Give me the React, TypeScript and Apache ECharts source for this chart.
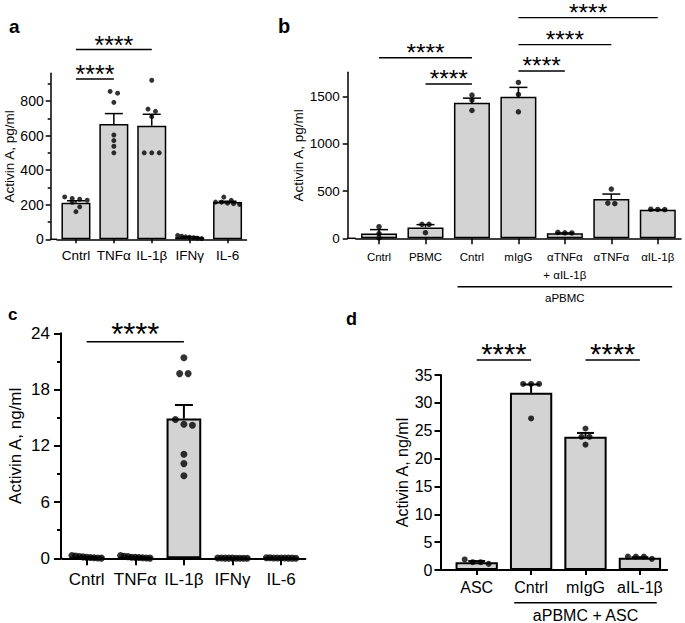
import React, { useEffect, useRef } from 'react';
import * as echarts from 'echarts';

// ---------- Panel a ----------
const aCategories = ['Cntrl', 'TNFα', 'IL-1β', 'IFNγ', 'IL-6'];
const aMeans = [211, 667, 657, 12, 215];
const aSem = [12, 60, 66, 3, 5];
const aPoints = [
  [245, 236, 232, 226, 214, 188, 160],
  [855, 845, 792, 603, 571, 538, 500],
  [920, 753, 740, 709, 500, 500, 500],
  [22, 18, 14, 12, 9, 6, 4],
  [244, 225, 215, 215, 209, 206, 202],
];
const aTicks = [0, 200, 400, 600, 800];
const aMinorTicks = [100, 300, 500, 700, 900];
const aSig = [
  { from: 0, to: 1, level: 927 },
  { from: 0, to: 2, level: 1098 },
];

// ---------- Panel b ----------
const bCategories = ['Cntrl', 'PBMC', 'Cntrl', 'mIgG', 'αTNFα\n+ αIL-1β', 'αTNFα', 'αIL-1β'];
const bMeans = [52, 115, 1436, 1500, 54, 416, 302];
const bSem = [40, 30, 50, 100, 3, 53, 2];
const bPoints = [
  [123, 50, 5],
  [148, 148, 59],
  [1518, 1465, 1356],
  [1652, 1525, 1341],
  [58, 63, 57],
  [522, 373, 368],
  [308, 306, 304],
];
const bTicks = [0, 500, 1000, 1500];
const bSig = [
  { from: 0, to: 2, level: 1915 },
  { from: 1, to: 2, level: 1636 },
  { from: 3, to: 4, level: 1774 },
  { from: 3, to: 5, level: 2053 },
  { from: 3, to: 6, level: 2340 },
];
const bGroup = { from: 2, to: 6, text: 'aPBMC' };

// ---------- Panel c ----------
const cCategories = ['Cntrl', 'TNFα', 'IL-1β', 'IFNγ', 'IL-6'];
const cMeans = [0.12, 0.12, 14.9, 0.02, 0.03];
const cSem = [0.03, 0.03, 1.45, 0.01, 0.01];
const cPoints = [
  [0.3, 0.25, 0.2, 0.15, 0.1, 0.08, 0.05, 0.03, 0.02],
  [0.3, 0.22, 0.18, 0.12, 0.1, 0.08, 0.05, 0.04, 0.02],
  [21.4, 19.7, 19.7, 14.8, 14.3, 14.2, 11.1, 10.1, 8.8],
  [0.03, 0.03, 0.02, 0.02, 0.02, 0.01, 0.01, 0.01, 0.01],
  [0.06, 0.05, 0.04, 0.04, 0.03, 0.03, 0.02, 0.02, 0.01],
];
const cTicks = [0, 6, 12, 18, 24];
const cSig = [{ from: 0, to: 2, level: 23.1 }];

// ---------- Panel d ----------
const dCategories = ['ASC', 'Cntrl', 'mIgG', 'aIL-1β'];
const dMeans = [1.4, 31.8, 23.9, 2.2];
const dSem = [0.2, 1.5, 0.7, 0.1];
const dPoints = [
  [1.9, 1.4, 1.4, 1.1],
  [33.4, 33.4, 33.4, 27.2],
  [25.4, 23.9, 23.9, 22.5],
  [2.4, 2.4, 2.4, 2.0],
];
const dTicks = [0, 5, 10, 15, 20, 25, 30, 35];
const dSig = [
  { from: 0, to: 1, level: 37.7 },
  { from: 2, to: 3, level: 37.7 },
];
const dGroup = { from: 1, to: 3, text: 'aPBMC + ASC' };

const FONT = '"Liberation Sans", Arial, Helvetica, sans-serif';
const BAR_FILL = '#d3d3d3';

type Panel = {
  letter: string;
  grid: { left: number; top: number; width: number; height: number };
  yOffset: number;
  yMax: number;
  ticks: number[];
  minorTicks?: number[];
  minorSplit?: number;
  cats: string[];
  means: number[];
  sem: number[];
  points: number[][];
  sig: { from: number; to: number; level: number }[];
  group?: { from: number; to: number; text: string };
  title: string;
  barWidth: number;
  dot: number;
  swarm: { tol: number; step: number; max: number };
  capHalf: number;
  lw: number;
  tickFont: number;
  catFont: number;
  titleFont: number;
  yLabelMargin: number;
  xLabelMargin: number;
  yTickLen: number;
  xTickLen: number;
  nameGap: number;
  catLineHeight?: number;
  starFont: number;
  starDy: number;
  groupLineDy?: number;
  groupTextDy?: number;
  groupFont?: number;
  letterPos: [number, number];
  letterFont: number;
};

const panels: Panel[] = [
  {
    letter: 'a', grid: { left: 57, top: 73.3, width: 189.5, height: 166 }, yOffset: 6.3, yMax: 960,
    ticks: aTicks, minorTicks: aMinorTicks, cats: aCategories, means: aMeans, sem: aSem, points: aPoints,
    sig: aSig, title: 'Activin A, pg/ml', barWidth: 29, dot: 5, swarm: { tol: 4.5, step: 7.5, max: 24 },
    capHalf: 9, lw: 1.5, tickFont: 14, catFont: 13.5, titleFont: 13.5, yLabelMargin: 7, xLabelMargin: 9,
    yTickLen: 5, xTickLen: 4, nameGap: 31, starFont: 25, starDy: 10.5, letterPos: [9, 26.7], letterFont: 19,
  },
  {
    letter: 'b', grid: { left: 355.8, top: 72.3, width: 325.2, height: 166 }, yOffset: 8.1, yMax: 1760,
    ticks: bTicks, cats: bCategories, means: bMeans, sem: bSem, points: bPoints,
    sig: bSig, group: bGroup, title: 'Activin A, pg/ml', barWidth: 36, dot: 5.5, swarm: { tol: 4, step: 7, max: 20 },
    capHalf: 9, lw: 1.5, tickFont: 13.5, catFont: 11.5, titleFont: 13.5, yLabelMargin: 8, xLabelMargin: 9.5,
    yTickLen: 5, xTickLen: 6, nameGap: 42.5, catLineHeight: 18, starFont: 24.5, starDy: 11,
    groupLineDy: 48.4, groupTextDy: 59.2, groupFont: 11.5, letterPos: [278, 26.3], letterFont: 20,
  },
  {
    letter: 'c', grid: { left: 62.4, top: 333.3, width: 243, height: 225 }, yOffset: 1.4, yMax: 24,
    ticks: cTicks, minorSplit: 2, cats: cCategories, means: cMeans, sem: cSem, points: cPoints,
    sig: cSig, title: 'Activin A, ng/ml', barWidth: 34.7, dot: 7, swarm: { tol: 6, step: 8.5, max: 29.5 },
    capHalf: 9, lw: 2, tickFont: 17, catFont: 17, titleFont: 17, yLabelMargin: 11, xLabelMargin: 13,
    yTickLen: 7, xTickLen: 7, nameGap: 37.5, starFont: 31, starDy: 14, letterPos: [8, 314.7], letterFont: 17,
  },
  {
    letter: 'd', grid: { left: 449.5, top: 375, width: 217.6, height: 195 }, yOffset: 9, yMax: 35,
    ticks: dTicks, cats: dCategories, means: dMeans, sem: dSem, points: dPoints,
    sig: dSig, group: dGroup, title: 'Activin A, ng/ml', barWidth: 42.3, dot: 6, swarm: { tol: 5, step: 8, max: 24 },
    capHalf: 8.5, lw: 2, tickFont: 16, catFont: 16, titleFont: 16, yLabelMargin: 8, xLabelMargin: 9,
    yTickLen: 6, xTickLen: 5, nameGap: 27.5, starFont: 29, starDy: 12.3,
    groupLineDy: 32.7, groupTextDy: 45, groupFont: 16, letterPos: [346, 319], letterFont: 18,
  },
];

function swarm(vals: number[], pxPerUnit: number, tol: number, step: number, maxSpan: number) {
  const order = vals.map((_, i) => i).sort((i, j) => vals[j] - vals[i]);
  const offs = new Array(vals.length).fill(0);
  let row: number[] = [];
  const flush = () => {
    const k = row.length;
    let s = step;
    if (k > 1 && (k - 1) * s > maxSpan) s = maxSpan / (k - 1);
    row.forEach((id, n) => { offs[id] = (n - (k - 1) / 2) * s; });
    row = [];
  };
  for (const i of order) {
    if (row.length && (vals[row[0]] - vals[i]) * pxPerUnit > tol) flush();
    row.push(i);
  }
  flush();
  return offs;
}

export default function App() {
  const ref = useRef<HTMLDivElement>(null);
  useEffect(() => {
    document.body.style.margin = '0';
    if (!ref.current) return;
    const chart = echarts.init(ref.current, undefined, { renderer: 'svg' });

    const grids: any[] = [];
    const xAxes: any[] = [];
    const yAxes: any[] = [];
    const series: any[] = [];
    const yIndexOf: number[] = [];

    panels.forEach((p, g) => {
      grids.push({ left: p.grid.left, top: p.grid.top, width: p.grid.width, height: p.grid.height, containLabel: false });
      const axLine = { color: '#000', width: p.lw };
      xAxes.push({
        type: 'category', gridIndex: g, data: p.cats,
        axisLine: { show: true, lineStyle: axLine },
        axisTick: { show: true, alignWithLabel: true, interval: 0, length: p.xTickLen, lineStyle: axLine },
        axisLabel: {
          interval: 0, color: '#000', fontSize: p.catFont, fontFamily: FONT, margin: p.xLabelMargin,
          lineHeight: p.catLineHeight,
        },
        splitLine: { show: false },
      });
      const yi = yAxes.length;
      yIndexOf.push(yi);
      const interval = p.ticks[1] - p.ticks[0];
      const lastTick = p.ticks[p.ticks.length - 1];
      yAxes.push({
        type: 'value', gridIndex: g, min: 0, max: p.yMax, interval, offset: p.yOffset,
        axisLine: { show: true, lineStyle: axLine },
        axisTick: { show: true, length: p.yTickLen, lineStyle: axLine, customValues: p.ticks },
        minorTick: p.minorSplit ? { show: true, splitNumber: p.minorSplit, length: 4, lineStyle: axLine } : { show: false },
        axisLabel: {
          customValues: p.ticks, showMaxLabel: true,
          formatter: (v: number) => (v <= lastTick ? String(v) : ''),
          color: '#000', fontSize: p.tickFont, fontFamily: FONT, margin: p.yLabelMargin,
        },
        splitLine: { show: false },
        name: p.title, nameLocation: 'middle', nameGap: p.nameGap, nameRotate: 90,
        nameTextStyle: { color: '#000', fontSize: p.titleFont, fontFamily: FONT },
      });
      if (p.minorTicks) {
        yAxes.push({
          type: 'value', gridIndex: g, min: 0, max: p.yMax, offset: p.yOffset, position: 'left',
          axisLine: { show: false },
          axisTick: { show: true, length: 3, lineStyle: axLine, customValues: p.minorTicks },
          axisLabel: { show: false },
          splitLine: { show: false },
        });
      }
      const pxPerUnit = p.grid.height / p.yMax;
      series.push({
        type: 'bar', xAxisIndex: g, yAxisIndex: yi, data: p.means, barWidth: p.barWidth,
        itemStyle: { color: BAR_FILL, borderColor: '#000', borderWidth: p.lw },
        z: 2, silent: true,
      });
      const cap = p.capHalf;
      const lw = p.lw;
      series.push({
        type: 'custom', xAxisIndex: g, yAxisIndex: yi, coordinateSystem: 'cartesian2d',
        data: p.means.map((m, i) => [i, m, p.sem[i]]),
        encode: { x: 0, y: 1 },
        renderItem: (params: any, api: any) => {
          const x = api.value(0);
          const m = api.value(1);
          const s = api.value(2);
          const p0 = api.coord([x, m]);
          const p1 = api.coord([x, m + s]);
          const st = { stroke: '#000', lineWidth: lw };
          return {
            type: 'group',
            children: [
              { type: 'line', shape: { x1: p0[0], y1: p0[1], x2: p1[0], y2: p1[1] }, style: st },
              { type: 'line', shape: { x1: p1[0] - cap, y1: p1[1], x2: p1[0] + cap, y2: p1[1] }, style: st },
            ],
          };
        },
        z: 3, silent: true,
      });
      const scatterData: any[] = [];
      p.points.forEach((vals, i) => {
        const offs = swarm(vals, pxPerUnit, p.swarm.tol, p.swarm.step, p.swarm.max);
        vals.forEach((v, k) => scatterData.push({ value: [i, v], symbolOffset: [offs[k], 0] }));
      });
      series.push({
        type: 'scatter', xAxisIndex: g, yAxisIndex: yi, data: scatterData, symbolSize: p.dot,
        itemStyle: { color: '#000' }, z: 4, silent: true, clip: false,
      });
    });

    chart.setOption({
      animation: false,
      backgroundColor: '#fff',
      textStyle: { fontFamily: FONT },
      grid: grids,
      xAxis: xAxes,
      yAxis: yAxes,
      series,
    });

    const graphics: any[] = [];
    panels.forEach((p, g) => {
      const yi = yIndexOf[g];
      const bottom = p.grid.top + p.grid.height;
      const line = (x1: number, y1: number, x2: number, y2: number, w: number) => ({
        type: 'line', shape: { x1, y1, x2, y2 }, style: { stroke: '#000', lineWidth: w }, silent: true,
      });
      // x-axis stub from the offset y-axis to the grid
      graphics.push(line(p.grid.left - p.yOffset - p.lw / 2, bottom, p.grid.left, bottom, p.lw));
      const cx = (i: number) => chart.convertToPixel({ xAxisIndex: g } as any, i as any) as unknown as number;
      const cy = (v: number) => chart.convertToPixel({ yAxisIndex: yi } as any, v as any) as unknown as number;
      const band = p.grid.width / p.cats.length;
      p.sig.forEach((s) => {
        const x1 = cx(s.from);
        const x2 = cx(s.to);
        const y = cy(s.level);
        graphics.push(line(x1, y, x2, y, 1.4));
        graphics.push({
          type: 'text', x: (x1 + x2) / 2, y: y - p.starDy + 0.23 * p.starFont, silent: true,
          style: {
            text: '****', fill: '#000', fontSize: p.starFont, fontFamily: FONT, fontWeight: 'normal',
            align: 'center', verticalAlign: 'middle',
          },
        });
      });
      if (p.group) {
        const x1 = cx(p.group.from) - 0.31 * band;
        const x2 = cx(p.group.to) + 0.31 * band;
        graphics.push(line(x1, bottom + (p.groupLineDy as number), x2, bottom + (p.groupLineDy as number), 1.4));
        graphics.push({
          type: 'text', x: (x1 + x2) / 2, y: bottom + (p.groupTextDy as number), silent: true,
          style: {
            text: p.group.text, fill: '#000', fontSize: p.groupFont, fontFamily: FONT,
            align: 'center', verticalAlign: 'middle',
          },
        });
      }
      graphics.push({
        type: 'text', x: p.letterPos[0], y: p.letterPos[1], silent: true,
        style: {
          text: p.letter, fill: '#000', fontSize: p.letterFont, fontFamily: FONT, fontWeight: 'bold',
          align: 'left', verticalAlign: 'middle',
        },
      });
    });
    chart.setOption({ graphic: graphics });

    return () => chart.dispose();
  }, []);
  return <div ref={ref} style={{ width: 685, height: 623 }} />;
}
